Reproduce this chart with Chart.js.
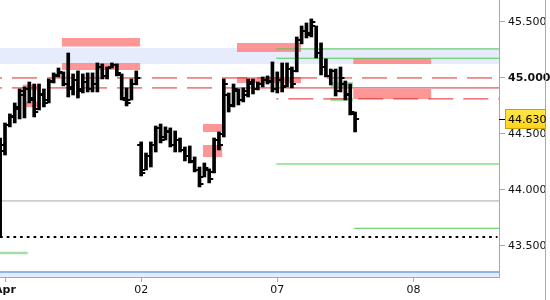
<!DOCTYPE html>
<html>
<head>
<meta charset="utf-8">
<title>Price chart</title>
<script src="https://cdn.jsdelivr.net/npm/chart.js@4.4.1/dist/chart.umd.min.js"></script>
<style>
  html, body { margin: 0; padding: 0; background: #fff; }
  #wrap { width: 550px; height: 300px; position: relative; }
</style>
</head>
<body>
<div id="wrap"><canvas id="myChart"></canvas></div>
<script>
// Bars: x position is bar number, 28 bars per day, first bar sits at -1
const firstBar = -1;
const highs = [44.464, 44.598, 44.679, 44.777, 44.902, 44.920, 44.964, 44.946, 44.946, 44.902,
  44.991, 45.045, 45.089, 45.054, 45.223, 45.036, 45.063, 45.036, 45.045, 45.045,
  45.134, 45.125, 45.098, 45.134, 45.125, 45.036, 44.911, 44.991, 45.063,
  44.429, 44.330, 44.429, 44.571, 44.589, 44.563, 44.554, 44.527, 44.464, 44.384,
  44.393, 44.295, 44.205, 44.241, 44.188, 44.464, 44.518, 44.991, 44.866, 44.946,
  44.902, 44.911, 44.991, 44.991, 44.964, 45.009, 45.018, 45.143, 45.054, 45.134,
  45.134, 45.098, 45.366, 45.464, 45.491, 45.527, 45.464, 45.313, 45.170, 45.080,
  45.080, 45.098, 44.973, 44.946, 44.696];
const lows = [43.580, 44.312, 44.563, 44.598, 44.634, 44.643, 44.777, 44.652, 44.714, 44.741,
  44.777, 44.955, 45.009, 44.929, 44.830, 44.848, 44.821, 44.866, 44.875, 44.875,
  44.875, 44.991, 44.991, 45.089, 45.018, 44.804, 44.750, 44.804, 44.938,
  44.125, 44.179, 44.205, 44.339, 44.420, 44.446, 44.384, 44.339, 44.339, 44.259,
  44.241, 44.161, 44.027, 44.116, 44.063, 44.152, 44.357, 44.473, 44.696, 44.741,
  44.759, 44.786, 44.830, 44.857, 44.893, 44.920, 44.946, 44.875, 44.866, 44.875,
  44.920, 44.911, 45.054, 45.304, 45.357, 45.366, 45.179, 45.027, 45.009, 44.938,
  44.839, 44.875, 44.804, 44.670, 44.518];
const opens = [43.60, 44.35, 44.58, 44.65, 44.72, 44.85, 44.90, 44.80, 44.72, 44.86,
  44.80, 44.97, 45.02, 45.04, 44.95, 44.92, 44.98, 44.90, 44.96, 44.90,
  44.95, 45.10, 45.02, 45.10, 45.12, 45.03, 44.80, 44.80, 44.95,
  44.40, 44.18, 44.30, 44.40, 44.55, 44.47, 44.52, 44.40, 44.45, 44.36,
  44.30, 44.26, 44.18, 44.12, 44.18, 44.16, 44.45, 44.50, 44.85, 44.76,
  44.88, 44.80, 44.85, 44.95, 44.90, 44.95, 44.98, 44.96, 44.90, 44.98,
  44.93, 45.08, 45.06, 45.34, 45.42, 45.40, 45.46, 45.22, 45.10, 45.02,
  45.06, 44.88, 44.95, 44.86, 44.68];
const closes = [44.40, 44.58, 44.66, 44.74, 44.88, 44.90, 44.82, 44.70, 44.85, 44.78,
  44.96, 45.03, 45.05, 44.95, 44.90, 44.98, 44.88, 44.96, 44.90, 44.95,
  45.10, 45.02, 45.09, 45.12, 45.04, 44.82, 44.78, 44.95, 45.00,
  44.15, 44.30, 44.40, 44.55, 44.45, 44.53, 44.40, 44.45, 44.36, 44.30,
  44.25, 44.18, 44.05, 44.20, 44.10, 44.45, 44.40, 44.95, 44.75, 44.90,
  44.80, 44.88, 44.96, 44.90, 44.95, 44.98, 44.97, 44.90, 44.98, 44.92,
  45.08, 44.95, 45.34, 45.42, 45.38, 45.50, 45.22, 45.10, 45.02, 45.06,
  44.88, 45.00, 44.85, 44.70, 44.63];

const dayTicks = [0, 28, 56, 84];
const dayLabels = ['Apr', '02', '07', '08'];
const priceTicks = [43.5, 44.0, 44.5, 45.0, 45.5];
const lastPrice = 44.63;

// visible range
const xMin = -1.03, xMax = 101.6;
const yMin = 43.223, yMax = 45.696;

// zones: [fromBar, toBar, low, high]
const blueZones = [[xMin, xMax, 45.125, 45.268]];
const redZones = [
  [11.7, 27.8, 45.280, 45.357],
  [11.7, 27.8, 45.071, 45.134],
  [3.7, 6.6, 44.890, 44.940],
  [3.7, 6.6, 44.740, 44.790],
  [40.7, 44.7, 44.518, 44.589],
  [40.7, 44.7, 44.295, 44.402],
  [47.7, 60.9, 45.232, 45.312],
  [47.7, 60.9, 44.955, 45.009],
  [71.6, 87.7, 45.125, 45.179],
  [71.6, 87.7, 44.813, 44.902]
];
const greenZones = [
  [66.9, 71.6, 44.920, 44.964],
  [66.9, 71.6, 44.795, 44.821],
  [xMin, 4.7, 43.426, 43.449]
];
// levels: [fromBar, toBar, price]
const greenLevels = [[55.8, xMax, 45.259], [55.8, xMax, 45.176], [55.8, xMax, 44.232], [71.8, xMax, 43.658]];
const redDashLevels = [[xMin, xMax, 45.000], [xMin, 44.7, 44.911], [55.8, xMax, 44.813]];
const redSolidLevels = [[44.7, xMax, 44.911]];
const greyLevel = 43.902;
const dottedLevel = 43.580;
const blueLevel = 43.268;

// small images for the open / close ticks
function tickImage(side) {
  const c = document.createElement('canvas');
  c.width = 12; c.height = 2;
  const g = c.getContext('2d');
  g.fillStyle = '#000';
  if (side === 'open') g.fillRect(2, 0, 3, 2);
  else g.fillRect(7, 0, 3, 2);
  return c;
}

function zoneSets(list, color, order) {
  let sets = [];
  list.forEach(z => {
    sets.push({ type: 'line', data: [{x: z[0], y: z[3]}, {x: z[1], y: z[3]}], borderWidth: 0,
      pointRadius: 0, fill: '+1', backgroundColor: color, order: order });
    sets.push({ type: 'line', data: [{x: z[0], y: z[2]}, {x: z[1], y: z[2]}], borderWidth: 0,
      pointRadius: 0, fill: false, order: order });
  });
  return sets;
}

function levelSets(list, color, dash, offset) {
  return list.map(l => ({ type: 'line', data: [{x: l[0], y: l[2]}, {x: l[1], y: l[2]}],
    borderColor: color, borderWidth: 1, borderDash: dash, borderDashOffset: offset || 0,
    pointRadius: 0, fill: false, order: 10 }));
}

let datasets = [];
datasets = datasets.concat(zoneSets(blueZones, 'rgb(230,236,252)', 30));
datasets = datasets.concat(zoneSets(redZones, 'rgba(255,120,120,0.78)', 20));
datasets = datasets.concat(zoneSets(greenZones, 'rgba(150,215,150,0.85)', 20));
datasets = datasets.concat(levelSets(greenLevels, '#4ccc4c', []));
datasets = datasets.concat(levelSets(redDashLevels, '#e02828', [25, 10], 23));
datasets = datasets.concat(levelSets(redSolidLevels, '#e02828', []));
datasets = datasets.concat(levelSets([[xMin, xMax, greyLevel]], '#a8a8a8', []));

// blue line at the bottom with light fill below
datasets.push({ type: 'line', data: [{x: xMin, y: blueLevel}, {x: xMax, y: blueLevel}],
  borderColor: '#6c9cf0', borderWidth: 1.5, pointRadius: 0, fill: 'start',
  backgroundColor: 'rgb(230,236,252)', order: 10 });

// dotted black line
datasets.push({ type: 'line', data: [{x: xMin, y: dottedLevel}, {x: xMax - 0.3, y: dottedLevel}],
  borderColor: '#000', borderWidth: 2, borderDash: [2.7, 4], pointRadius: 0, fill: false, order: 10 });

// high-low bars
datasets.push({ type: 'bar', data: highs.map((h, k) => ({x: firstBar + k, y: [lows[k], h]})),
  backgroundColor: '#000', borderWidth: 0, barThickness: 3, grouped: false, order: 1 });

// open and close ticks
datasets.push({ type: 'line', showLine: false, data: opens.map((o, k) => ({x: firstBar + k, y: o})),
  pointStyle: tickImage('open'), pointRadius: 3, order: 0 });
datasets.push({ type: 'line', showLine: false, data: closes.map((c, k) => ({x: firstBar + k, y: c})),
  pointStyle: tickImage('close'), pointRadius: 3, order: 0 });

// price box on the right axis
const priceBox = {
  id: 'priceBox',
  afterDraw(chart) {
    const ctx = chart.ctx;
    const area = chart.chartArea;
    const y = Math.round(chart.scales.y.getPixelForValue(lastPrice));
    ctx.save();
    // frame line right
    ctx.strokeStyle = '#a8a8a8';
    ctx.lineWidth = 1;
    ctx.beginPath();
    ctx.moveTo(chart.width - 4.5, 0);
    ctx.lineTo(chart.width - 4.5, chart.height);
    ctx.stroke();
    // tick
    ctx.strokeStyle = '#000';
    ctx.beginPath();
    ctx.moveTo(area.right, y + 0.5);
    ctx.lineTo(area.right + 6, y + 0.5);
    ctx.stroke();
    const grad = ctx.createLinearGradient(0, y - 10, 0, y + 10);
    grad.addColorStop(0, '#ffe84a');
    grad.addColorStop(1, '#ffd21a');
    ctx.fillStyle = grad;
    ctx.fillRect(area.right + 6, y - 10, 41, 20);
    ctx.strokeStyle = '#c9a200';
    ctx.strokeRect(area.right + 6.5, y - 9.5, 40, 19);
    ctx.fillStyle = '#000';
    ctx.font = '11px "DejaVu Sans"';
    ctx.textBaseline = 'middle';
    ctx.fillText(lastPrice.toFixed(3), area.right + 9, y + 1);
    ctx.restore();
  }
};

const myChart = document.getElementById('myChart');

new Chart(myChart, {
  data: { datasets: datasets },
  options: {
    responsive: true,
    maintainAspectRatio: false,
    animation: false,
    layout: { padding: 0, autoPadding: false },
    plugins: { legend: { display: false }, tooltip: { enabled: false } },
    scales: {
      x: {
        type: 'linear',
        position: 'bottom',
        offset: false,
        min: xMin,
        max: xMax,
        grid: { offset: false, drawOnChartArea: false, tickLength: 5, color: '#a8a8a8' },
        border: { color: '#a8a8a8' },
        ticks: {
          color: '#111',
          padding: 2,
          maxRotation: 0,
          autoSkip: false,
          font: ctx => ({ family: 'DejaVu Sans', size: 11, weight: ctx.index === 0 ? 'bold' : 'normal' }),
          callback: v => dayLabels[dayTicks.indexOf(v)]
        },
        afterBuildTicks: s => { s.ticks = dayTicks.map(v => ({value: v})); },
        afterFit: s => { s.height = 23; s.paddingLeft = 0; s.paddingRight = 0; }
      },
      y: {
        type: 'linear',
        position: 'right',
        min: yMin,
        max: yMax,
        grid: { drawOnChartArea: false, tickLength: 6, color: '#a8a8a8' },
        border: { color: '#a8a8a8' },
        ticks: {
          color: '#111',
          padding: 3,
          font: ctx => ({ family: 'DejaVu Sans', size: 11, weight: ctx.tick && ctx.tick.value === 45 ? 'bold' : 'normal' }),
          callback: v => v.toFixed(3)
        },
        afterBuildTicks: s => { s.ticks = priceTicks.map(v => ({value: v})); },
        afterFit: s => { s.width = 51; s.paddingTop = 0; s.paddingBottom = 0; }
      }
    }
  },
  plugins: [priceBox]
});
</script>
</body>
</html>
